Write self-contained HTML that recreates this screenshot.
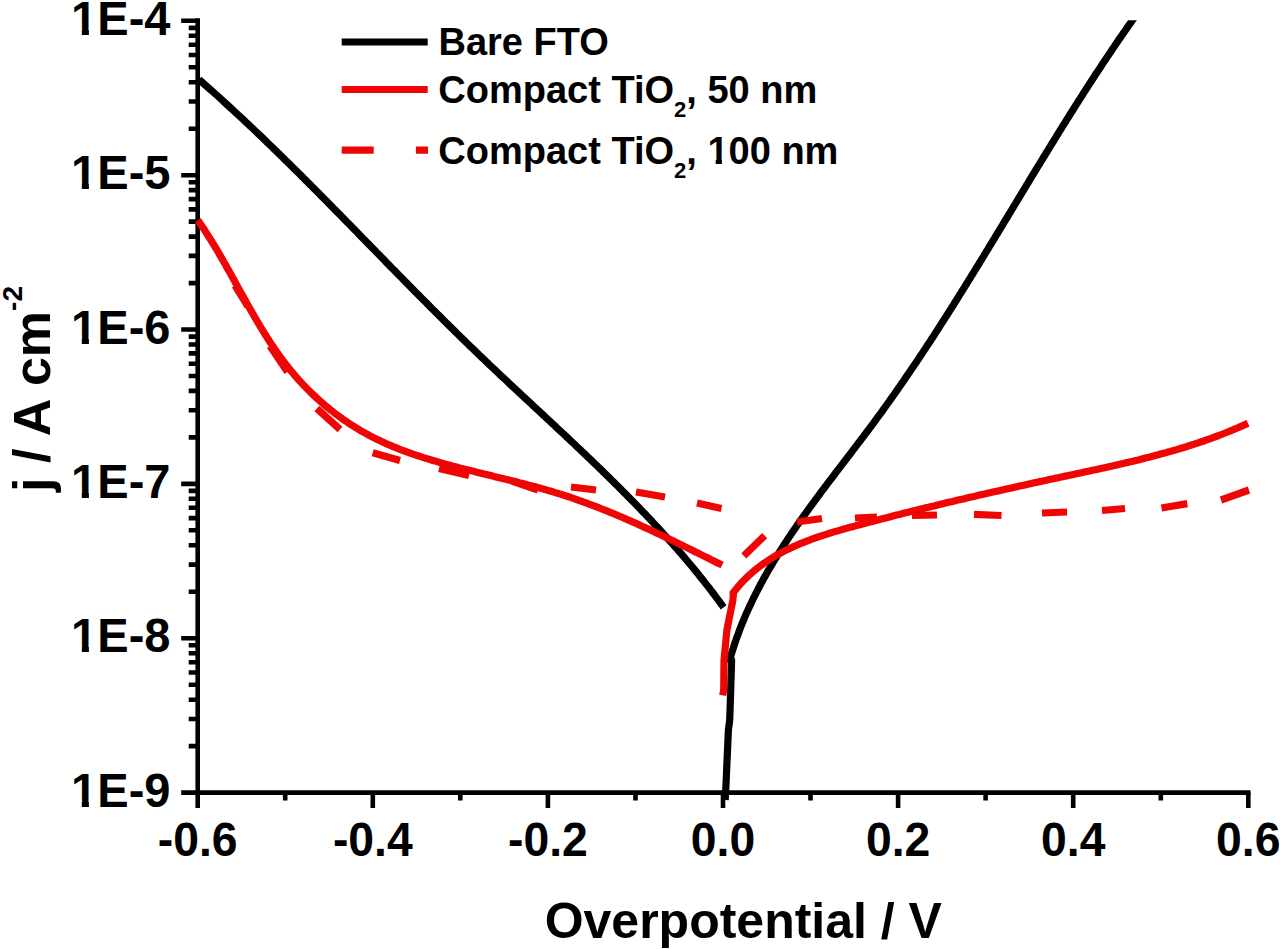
<!DOCTYPE html><html><head><meta charset="utf-8"><style>html,body{margin:0;padding:0;background:#fff;width:1280px;height:949px;overflow:hidden}svg{display:block}</style></head><body><div id="w"><svg width="1280" height="949" viewBox="0 0 1280 949">
<rect width="1280" height="949" fill="#fff"/>
<path d="M188.7,128.7H197.7M188.7,101.5H197.7M188.7,82.2H197.7M188.7,67.3H197.7M188.7,55.0H197.7M188.7,44.7H197.7M188.7,35.8H197.7M188.7,27.9H197.7M188.7,283.1H197.7M188.7,255.9H197.7M188.7,236.6H197.7M188.7,221.6H197.7M188.7,209.4H197.7M188.7,199.1H197.7M188.7,190.1H197.7M188.7,182.2H197.7M188.7,437.4H197.7M188.7,410.2H197.7M188.7,390.9H197.7M188.7,376.0H197.7M188.7,363.8H197.7M188.7,353.4H197.7M188.7,344.5H197.7M188.7,336.6H197.7M188.7,591.8H197.7M188.7,564.6H197.7M188.7,545.3H197.7M188.7,530.3H197.7M188.7,518.1H197.7M188.7,507.8H197.7M188.7,498.8H197.7M188.7,490.9H197.7M188.7,746.1H197.7M188.7,719.0H197.7M188.7,699.7H197.7M188.7,684.7H197.7M188.7,672.5H197.7M188.7,662.2H197.7M188.7,653.2H197.7M188.7,645.3H197.7M181.2,20.8H197.7M181.2,175.2H197.7M181.2,329.5H197.7M181.2,483.9H197.7M181.2,638.2H197.7M181.2,792.6H197.7M197.7,792.6V808.1M372.8,792.6V808.1M547.9,792.6V808.1M723.0,792.6V808.1M898.1,792.6V808.1M1073.2,792.6V808.1M1248.3,792.6V808.1M285.2,792.6V800.6M460.3,792.6V800.6M635.5,792.6V800.6M810.5,792.6V800.6M985.6,792.6V800.6M1160.8,792.6V800.6" stroke="#000" stroke-width="4.6" fill="none"/>
<path d="M197.7,18.3V792.6H1250.5" stroke="#000" stroke-width="4.6" fill="none" stroke-linejoin="miter"/>
<defs><clipPath id="pc"><rect x="0" y="20.3" width="1280" height="930"/></clipPath></defs>
<g fill="none" stroke-linejoin="round" stroke-width="7.2" clip-path="url(#pc)">
<path d="M199.0,79.6 L201.3,81.5 L203.5,83.5 L205.8,85.5 L208.0,87.5 L210.3,89.5 L212.5,91.4 L214.7,93.4 L217.0,95.4 L219.2,97.4 L221.4,99.4 L223.6,101.5 L225.8,103.5 L228.0,105.5 L230.2,107.5 L232.4,109.5 L234.6,111.6 L236.8,113.6 L239.0,115.6 L241.2,117.7 L243.4,119.7 L245.6,121.8 L247.8,123.8 L249.9,125.9 L252.1,127.9 L254.3,130.0 L256.4,132.0 L258.6,134.1 L260.8,136.2 L262.9,138.2 L265.1,140.3 L267.2,142.4 L269.4,144.5 L271.5,146.5 L273.7,148.6 L275.8,150.7 L278.0,152.8 L280.1,154.9 L282.3,157.0 L284.4,159.1 L286.5,161.2 L288.7,163.3 L290.8,165.4 L292.9,167.5 L295.0,169.6 L297.2,171.7 L299.3,173.8 L301.4,175.9 L303.5,178.0 L305.6,180.1 L307.7,182.2 L309.9,184.4 L312.0,186.5 L314.1,188.6 L316.2,190.7 L318.3,192.8 L320.4,195.0 L322.5,197.1 L324.6,199.2 L326.7,201.3 L328.8,203.5 L330.9,205.6 L333.0,207.7 L335.1,209.9 L337.2,212.0 L339.3,214.1 L341.4,216.3 L343.5,218.4 L345.6,220.6 L347.7,222.7 L349.8,224.8 L351.9,227.0 L354.0,229.1 L356.1,231.2 L358.1,233.4 L360.2,235.5 L362.3,237.7 L364.4,239.8 L366.5,242.0 L368.6,244.1 L370.7,246.2 L372.8,248.4 L374.9,250.5 L377.0,252.7 L379.1,254.8 L381.2,257.0 L383.3,259.1 L385.3,261.2 L387.4,263.4 L389.5,265.5 L391.6,267.7 L393.7,269.8 L395.8,271.9 L397.9,274.1 L400.0,276.2 L402.1,278.3 L404.2,280.5 L406.3,282.6 L408.4,284.8 L410.5,286.9 L412.6,289.0 L414.7,291.2 L416.8,293.3 L418.9,295.4 L421.0,297.5 L423.2,299.7 L425.3,301.8 L427.4,303.9 L429.5,306.1 L431.6,308.2 L433.7,310.3 L435.8,312.4 L438.0,314.5 L440.1,316.6 L442.2,318.8 L444.3,320.9 L446.5,323.0 L448.6,325.1 L450.7,327.2 L452.9,329.3 L455.0,331.4 L457.1,333.5 L459.3,335.6 L461.4,337.7 L463.6,339.8 L465.7,341.9 L467.9,344.0 L470.0,346.1 L472.2,348.2 L474.3,350.2 L476.5,352.3 L478.6,354.4 L480.8,356.5 L483.0,358.5 L485.2,360.6 L487.3,362.7 L489.5,364.8 L491.7,366.8 L493.9,368.9 L496.0,370.9 L498.2,373.0 L500.4,375.1 L502.6,377.1 L504.8,379.2 L507.0,381.2 L509.2,383.3 L511.3,385.3 L513.5,387.4 L515.7,389.4 L517.9,391.5 L520.1,393.5 L522.3,395.6 L524.5,397.6 L526.7,399.7 L528.9,401.7 L531.1,403.7 L533.3,405.8 L535.5,407.8 L537.7,409.9 L539.9,411.9 L542.1,414.0 L544.3,416.0 L546.5,418.1 L548.7,420.1 L550.9,422.1 L553.0,424.2 L555.2,426.2 L557.4,428.3 L559.6,430.3 L561.8,432.4 L564.0,434.4 L566.2,436.5 L568.4,438.5 L570.5,440.6 L572.7,442.7 L574.9,444.7 L577.1,446.8 L579.3,448.8 L581.4,450.9 L583.6,453.0 L585.8,455.0 L587.9,457.1 L590.1,459.2 L592.2,461.2 L594.4,463.3 L596.6,465.4 L598.7,467.5 L600.9,469.5 L603.0,471.6 L605.1,473.7 L607.3,475.8 L609.4,477.9 L611.5,480.0 L613.7,482.1 L615.8,484.2 L617.9,486.3 L620.0,488.4 L622.1,490.5 L624.2,492.6 L626.4,494.8 L628.4,496.9 L630.5,499.0 L632.6,501.1 L634.7,503.3 L636.8,505.4 L638.9,507.6 L640.9,509.7 L643.0,511.9 L645.1,514.0 L647.1,516.2 L649.2,518.3 L651.2,520.5 L653.2,522.7 L655.3,524.9 L657.3,527.0 L659.3,529.2 L661.3,531.4 L663.3,533.6 L665.3,535.8 L667.3,538.0 L669.3,540.3 L671.3,542.5 L673.3,544.7 L675.2,547.0 L677.2,549.2 L679.1,551.4 L681.1,553.7 L683.0,555.9 L685.0,558.2 L686.9,560.5 L688.8,562.8 L690.7,565.0 L692.6,567.3 L694.5,569.6 L696.4,571.9 L698.3,574.2 L700.1,576.6 L702.0,578.9 L703.9,581.2 L705.7,583.6 L707.5,585.9 L709.4,588.3 L711.2,590.6 L713.0,593.0 L714.8,595.4 L716.6,597.8 L718.4,600.2 L720.1,602.6 L721.9,605.0 L723.6,607.4" stroke="#000"/>
<path d="M725.2,800.0 L725.8,789.0 L728.4,730.0 L729.7,720.0 L730.7,690.0 L731.6,660.0 L729.8,659.7 L730.5,657.2 L731.2,654.6 L732.0,652.1 L732.8,649.6 L733.6,647.2 L734.4,644.7 L735.2,642.2 L736.0,639.8 L736.9,637.3 L737.8,634.9 L738.7,632.5 L739.6,630.0 L740.5,627.6 L741.5,625.2 L742.4,622.9 L743.4,620.5 L744.4,618.1 L745.4,615.7 L746.4,613.4 L747.5,611.0 L748.5,608.7 L749.6,606.4 L750.7,604.1 L751.8,601.8 L752.9,599.4 L754.0,597.2 L755.2,594.9 L756.3,592.6 L757.5,590.3 L758.7,588.0 L759.8,585.8 L761.0,583.5 L762.3,581.3 L763.5,579.0 L764.7,576.8 L766.0,574.6 L767.2,572.4 L768.5,570.2 L769.8,568.0 L771.1,565.8 L772.4,563.6 L773.7,561.4 L775.0,559.2 L776.4,557.0 L777.7,554.8 L779.1,552.7 L780.4,550.5 L781.8,548.4 L783.2,546.2 L784.6,544.1 L786.0,541.9 L787.4,539.8 L788.8,537.6 L790.2,535.5 L791.6,533.4 L793.1,531.3 L794.5,529.2 L796.0,527.1 L797.4,524.9 L798.9,522.8 L800.4,520.7 L801.9,518.6 L803.3,516.5 L804.8,514.5 L806.3,512.4 L807.8,510.3 L809.3,508.2 L810.8,506.1 L812.4,504.0 L813.9,502.0 L815.4,499.9 L816.9,497.8 L818.5,495.8 L820.0,493.7 L821.5,491.6 L823.1,489.6 L824.6,487.5 L826.2,485.4 L827.7,483.4 L829.3,481.3 L830.8,479.3 L832.4,477.2 L834.0,475.2 L835.5,473.1 L837.1,471.1 L838.6,469.0 L840.2,467.0 L841.8,464.9 L843.3,462.9 L844.9,460.8 L846.5,458.8 L848.0,456.7 L849.6,454.7 L851.2,452.6 L852.7,450.5 L854.3,448.5 L855.9,446.4 L857.4,444.4 L859.0,442.3 L860.6,440.3 L862.1,438.2 L863.7,436.2 L865.2,434.1 L866.8,432.0 L868.3,430.0 L869.9,427.9 L871.4,425.8 L872.9,423.8 L874.5,421.7 L876.0,419.6 L877.5,417.5 L879.1,415.4 L880.6,413.4 L882.1,411.3 L883.6,409.2 L885.1,407.1 L886.6,405.0 L888.1,402.9 L889.6,400.8 L891.1,398.7 L892.6,396.6 L894.1,394.5 L895.6,392.4 L897.0,390.3 L898.5,388.2 L900.0,386.0 L901.4,383.9 L902.9,381.8 L904.4,379.7 L905.8,377.6 L907.3,375.4 L908.7,373.3 L910.2,371.2 L911.6,369.1 L913.1,366.9 L914.5,364.8 L915.9,362.7 L917.4,360.5 L918.8,358.4 L920.2,356.2 L921.7,354.1 L923.1,351.9 L924.5,349.8 L925.9,347.7 L927.3,345.5 L928.7,343.4 L930.2,341.2 L931.6,339.0 L933.0,336.9 L934.4,334.7 L935.8,332.6 L937.2,330.4 L938.6,328.2 L939.9,326.1 L941.3,323.9 L942.7,321.7 L944.1,319.6 L945.5,317.4 L946.9,315.2 L948.3,313.1 L949.6,310.9 L951.0,308.7 L952.4,306.5 L953.8,304.4 L955.1,302.2 L956.5,300.0 L957.9,297.8 L959.2,295.6 L960.6,293.5 L961.9,291.3 L963.3,289.1 L964.7,286.9 L966.0,284.7 L967.4,282.5 L968.7,280.3 L970.1,278.2 L971.4,276.0 L972.8,273.8 L974.1,271.6 L975.5,269.4 L976.8,267.2 L978.2,265.0 L979.5,262.8 L980.9,260.6 L982.2,258.4 L983.6,256.2 L984.9,254.0 L986.2,251.8 L987.6,249.6 L988.9,247.4 L990.2,245.2 L991.6,243.0 L992.9,240.8 L994.3,238.6 L995.6,236.4 L996.9,234.2 L998.3,232.0 L999.6,229.8 L1000.9,227.6 L1002.3,225.4 L1003.6,223.2 L1004.9,221.0 L1006.3,218.8 L1007.6,216.6 L1008.9,214.4 L1010.3,212.2 L1011.6,210.0 L1012.9,207.8 L1014.2,205.6 L1015.6,203.4 L1016.9,201.2 L1018.2,199.0 L1019.6,196.8 L1020.9,194.6 L1022.2,192.4 L1023.6,190.2 L1024.9,188.0 L1026.2,185.8 L1027.6,183.6 L1028.9,181.4 L1030.2,179.2 L1031.6,176.9 L1032.9,174.7 L1034.3,172.5 L1035.6,170.3 L1036.9,168.1 L1038.3,165.9 L1039.6,163.8 L1040.9,161.6 L1042.3,159.4 L1043.6,157.2 L1045.0,155.0 L1046.3,152.8 L1047.7,150.6 L1049.0,148.4 L1050.4,146.2 L1051.7,144.0 L1053.1,141.8 L1054.4,139.6 L1055.8,137.4 L1057.1,135.2 L1058.5,133.0 L1059.8,130.8 L1061.2,128.7 L1062.5,126.5 L1063.9,124.3 L1065.3,122.1 L1066.6,119.9 L1068.0,117.7 L1069.4,115.6 L1070.7,113.4 L1072.1,111.2 L1073.5,109.0 L1074.9,106.8 L1076.2,104.7 L1077.6,102.5 L1079.0,100.3 L1080.4,98.1 L1081.8,96.0 L1083.1,93.8 L1084.5,91.6 L1085.9,89.5 L1087.3,87.3 L1088.7,85.1 L1090.1,83.0 L1091.5,80.8 L1092.9,78.7 L1094.3,76.5 L1095.7,74.3 L1097.1,72.2 L1098.6,70.0 L1100.0,67.9 L1101.4,65.7 L1102.8,63.6 L1104.2,61.4 L1105.7,59.3 L1107.1,57.1 L1108.5,55.0 L1110.0,52.9 L1111.4,50.7 L1112.8,48.6 L1114.3,46.5 L1115.7,44.3 L1117.2,42.2 L1118.6,40.1 L1120.1,37.9 L1121.6,35.8 L1123.0,33.7 L1124.5,31.6 L1126.0,29.5 L1127.4,27.3 L1128.9,25.2 L1130.4,23.1 L1131.9,21.0 L1133.4,18.9 L1134.8,16.8 L1136.3,14.7 L1137.8,12.6 L1139.3,10.5" stroke="#000"/>
<path d="M197.8,220.3 L199.1,222.0 L200.3,223.8 L201.5,225.6 L202.7,227.3 L203.9,229.1 L205.1,230.9 L206.3,232.8 L207.4,234.6 L208.6,236.4 L209.8,238.2 L210.9,240.1 L212.0,241.9 L213.2,243.8 L214.3,245.7 L215.4,247.5 L216.6,249.4 L217.7,251.3 L218.8,253.2 L219.9,255.1 L221.0,257.0 L222.1,258.9 L223.2,260.8 L224.3,262.7 L225.4,264.6 L226.4,266.5 L227.5,268.5 L228.6,270.4 L229.7,272.3 L230.8,274.2 L231.8,276.2 L232.9,278.1 L234.0,280.1 L235.1,282.0 L236.1,283.9 L237.2,285.9 L238.3,287.8 L239.3,289.8 L240.4,291.7 L241.5,293.7 L242.6,295.6 L243.6,297.5 L244.7,299.5 L245.8,301.4 L246.9,303.4 L248.0,305.3 L249.1,307.2 L250.2,309.2 L251.3,311.1 L252.4,313.0 L253.5,314.9 L254.6,316.9 L255.7,318.8 L256.8,320.7 L258.0,322.6 L259.1,324.5 L260.2,326.4 L261.4,328.3 L262.5,330.2 L263.7,332.1 L264.9,334.0 L266.0,335.8 L267.2,337.7 L268.4,339.5 L269.6,341.4 L270.8,343.2 L272.0,345.1 L273.3,346.9 L274.5,348.7 L275.7,350.5 L277.0,352.4 L278.3,354.2 L279.5,355.9 L280.8,357.7 L282.1,359.5 L283.4,361.2 L284.8,363.0 L286.1,364.7 L287.5,366.5 L288.8,368.2 L290.2,369.9 L291.6,371.6 L293.0,373.2 L294.4,374.9 L295.8,376.6 L297.3,378.2 L298.7,379.9 L300.2,381.5 L301.7,383.1 L303.2,384.7 L304.7,386.3 L306.2,387.8 L307.7,389.4 L309.3,390.9 L310.8,392.5 L312.4,394.0 L314.0,395.5 L315.6,397.0 L317.2,398.5 L318.8,399.9 L320.4,401.4 L322.1,402.8 L323.7,404.2 L325.4,405.7 L327.1,407.1 L328.7,408.4 L330.4,409.8 L332.2,411.2 L333.9,412.5 L335.6,413.8 L337.4,415.1 L339.1,416.4 L340.9,417.7 L342.7,419.0 L344.5,420.2 L346.3,421.4 L348.1,422.7 L349.9,423.9 L351.7,425.1 L353.6,426.2 L355.4,427.4 L357.3,428.5 L359.1,429.7 L361.0,430.8 L362.9,431.9 L364.8,432.9 L366.7,434.0 L368.6,435.0 L370.6,436.1 L372.5,437.1 L374.5,438.1 L376.4,439.0 L378.4,440.0 L380.4,440.9 L382.3,441.9 L384.3,442.8 L386.3,443.7 L388.4,444.6 L390.4,445.4 L392.4,446.3 L394.4,447.1 L396.5,447.9 L398.5,448.8 L400.6,449.6 L402.6,450.3 L404.7,451.1 L406.7,451.9 L408.8,452.6 L410.9,453.4 L413.0,454.1 L415.1,454.8 L417.2,455.5 L419.3,456.2 L421.4,456.9 L423.5,457.6 L425.6,458.2 L427.7,458.9 L429.8,459.5 L431.9,460.2 L434.0,460.8 L436.2,461.4 L438.3,462.0 L440.4,462.7 L442.6,463.3 L444.7,463.9 L446.8,464.4 L449.0,465.0 L451.1,465.6 L453.2,466.2 L455.4,466.7 L457.5,467.3 L459.6,467.9 L461.8,468.4 L463.9,469.0 L466.1,469.5 L468.2,470.0 L470.3,470.6 L472.5,471.1 L474.6,471.6 L476.7,472.2 L478.9,472.7 L481.0,473.2 L483.2,473.8 L485.3,474.3 L487.4,474.8 L489.6,475.3 L491.7,475.8 L493.9,476.4 L496.0,476.9 L498.1,477.4 L500.3,477.9 L502.4,478.4 L504.5,479.0 L506.7,479.5 L508.8,480.0 L510.9,480.5 L513.1,481.1 L515.2,481.6 L517.3,482.1 L519.4,482.7 L521.6,483.2 L523.7,483.8 L525.8,484.3 L527.9,484.9 L530.0,485.4 L532.2,486.0 L534.3,486.6 L536.4,487.1 L538.5,487.7 L540.6,488.3 L542.7,488.9 L544.8,489.5 L546.9,490.1 L549.0,490.7 L551.1,491.3 L553.2,491.9 L555.3,492.6 L557.4,493.2 L559.5,493.9 L561.6,494.5 L563.7,495.2 L565.7,495.8 L567.8,496.5 L569.9,497.2 L572.0,497.9 L574.0,498.6 L576.1,499.3 L578.2,500.1 L580.2,500.8 L582.3,501.5 L584.4,502.3 L586.4,503.0 L588.5,503.8 L590.5,504.6 L592.6,505.3 L594.6,506.1 L596.7,506.9 L598.7,507.7 L600.7,508.5 L602.8,509.3 L604.8,510.1 L606.9,510.9 L608.9,511.8 L610.9,512.6 L612.9,513.4 L615.0,514.3 L617.0,515.1 L619.0,516.0 L621.0,516.8 L623.1,517.7 L625.1,518.6 L627.1,519.5 L629.1,520.4 L631.1,521.2 L633.1,522.1 L635.1,523.0 L637.1,523.9 L639.1,524.8 L641.1,525.8 L643.1,526.7 L645.1,527.6 L647.1,528.5 L649.1,529.4 L651.1,530.4 L653.1,531.3 L655.1,532.2 L657.1,533.2 L659.1,534.1 L661.1,535.1 L663.1,536.0 L665.0,537.0 L667.0,537.9 L669.0,538.9 L671.0,539.9 L673.0,540.8 L674.9,541.8 L676.9,542.7 L678.9,543.7 L680.9,544.7 L682.8,545.6 L684.8,546.6 L686.8,547.6 L688.8,548.6 L690.7,549.5 L692.7,550.5 L694.7,551.5 L696.6,552.5 L698.6,553.4 L700.5,554.4 L702.5,555.4 L704.5,556.4 L706.4,557.3 L708.4,558.3 L710.3,559.3 L712.3,560.2 L714.3,561.2 L716.2,562.2 L718.2,563.2 L720.1,564.1 L722.1,565.1" stroke="#f00505"/>
<path d="M722.7,695.4 L723.7,690.0 L724.0,660.0 L726.9,630.0 L732.9,600.0 L733.5,593.0 L733.0,593.0 L734.8,590.7 L736.6,588.5 L738.4,586.3 L740.3,584.1 L742.2,582.1 L744.2,580.0 L746.1,578.1 L748.1,576.1 L750.2,574.3 L752.3,572.4 L754.3,570.6 L756.5,568.9 L758.6,567.2 L760.8,565.6 L763.0,564.0 L765.2,562.4 L767.5,560.9 L769.7,559.4 L772.0,558.0 L774.3,556.6 L776.7,555.2 L779.0,553.9 L781.4,552.6 L783.8,551.3 L786.2,550.1 L788.7,548.9 L791.1,547.7 L793.6,546.6 L796.1,545.5 L798.6,544.4 L801.1,543.3 L803.7,542.3 L806.2,541.3 L808.8,540.3 L811.3,539.4 L813.9,538.4 L816.5,537.5 L819.1,536.6 L821.7,535.8 L824.4,534.9 L827.0,534.1 L829.6,533.2 L832.3,532.4 L834.9,531.6 L837.6,530.9 L840.3,530.1 L842.9,529.3 L845.6,528.6 L848.3,527.8 L851.0,527.1 L853.7,526.4 L856.3,525.6 L859.0,524.9 L861.7,524.2 L864.4,523.5 L867.1,522.8 L869.7,522.1 L872.4,521.4 L875.1,520.7 L877.8,520.0 L880.5,519.3 L883.1,518.6 L885.8,517.9 L888.5,517.2 L891.2,516.5 L893.8,515.8 L896.5,515.1 L899.2,514.5 L901.9,513.8 L904.5,513.1 L907.2,512.4 L909.9,511.8 L912.6,511.1 L915.2,510.4 L917.9,509.8 L920.6,509.1 L923.3,508.5 L925.9,507.8 L928.6,507.2 L931.3,506.5 L934.0,505.9 L936.6,505.2 L939.3,504.6 L942.0,503.9 L944.6,503.3 L947.3,502.6 L950.0,502.0 L952.7,501.4 L955.3,500.7 L958.0,500.1 L960.7,499.5 L963.4,498.9 L966.0,498.2 L968.7,497.6 L971.4,497.0 L974.1,496.4 L976.7,495.7 L979.4,495.1 L982.1,494.5 L984.8,493.9 L987.5,493.3 L990.1,492.7 L992.8,492.1 L995.5,491.5 L998.2,490.9 L1000.9,490.3 L1003.5,489.7 L1006.2,489.1 L1008.9,488.5 L1011.6,487.9 L1014.3,487.3 L1016.9,486.7 L1019.6,486.1 L1022.3,485.5 L1025.0,484.9 L1027.7,484.3 L1030.4,483.7 L1033.1,483.1 L1035.8,482.5 L1038.5,481.9 L1041.1,481.4 L1043.8,480.8 L1046.5,480.2 L1049.2,479.6 L1051.9,479.0 L1054.6,478.4 L1057.3,477.9 L1060.0,477.3 L1062.7,476.7 L1065.4,476.1 L1068.1,475.6 L1070.8,475.0 L1073.5,474.4 L1076.2,473.8 L1078.9,473.2 L1081.6,472.7 L1084.3,472.1 L1087.0,471.5 L1089.8,470.9 L1092.5,470.3 L1095.2,469.8 L1097.9,469.2 L1100.6,468.6 L1103.3,468.0 L1106.0,467.4 L1108.7,466.8 L1111.4,466.2 L1114.1,465.6 L1116.8,464.9 L1119.5,464.3 L1122.2,463.7 L1124.9,463.1 L1127.6,462.4 L1130.3,461.8 L1133.0,461.2 L1135.6,460.5 L1138.3,459.9 L1141.0,459.2 L1143.7,458.5 L1146.4,457.8 L1149.1,457.2 L1151.7,456.5 L1154.4,455.8 L1157.1,455.1 L1159.8,454.3 L1162.4,453.6 L1165.1,452.9 L1167.7,452.1 L1170.4,451.4 L1173.0,450.6 L1175.7,449.9 L1178.3,449.1 L1181.0,448.3 L1183.6,447.5 L1186.3,446.7 L1188.9,445.8 L1191.5,445.0 L1194.1,444.2 L1196.8,443.3 L1199.4,442.4 L1202.0,441.5 L1204.6,440.7 L1207.2,439.7 L1209.8,438.8 L1212.4,437.9 L1215.0,436.9 L1217.5,436.0 L1220.1,435.0 L1222.7,434.0 L1225.2,433.0 L1227.8,432.0 L1230.3,430.9 L1232.9,429.9 L1235.4,428.8 L1238.0,427.7 L1240.5,426.6 L1243.0,425.5 L1245.5,424.4 L1248.0,423.2" stroke="#f00505"/>
</g>
<g fill="none" stroke="#f00505" stroke-width="7.2">
<path d="M235.0,285.5 L248.0,306.5"/>
<path d="M270.0,346.0 L287.5,372.0"/>
<path d="M316.9,408.5 L340.0,429.5"/>
<path d="M372.7,452.7 L400.0,460.5"/>
<path d="M439.0,468.5 L469.0,475.5"/>
<path d="M512.0,481.0 L538.0,490.0"/>
<path d="M571.0,487.0 L596.0,490.0"/>
<path d="M636.0,492.0 L665.0,497.0"/>
<path d="M697.0,503.0 L721.5,508.5"/>
<path d="M743.8,555.9 L764.7,535.6"/>
<path d="M797.0,522.0 L822.0,518.5"/>
<path d="M855.0,518.0 L877.0,517.0"/>
<path d="M912.0,515.5 L937.0,515.0"/>
<path d="M974.0,514.3 L1001.5,515.5"/>
<path d="M1042.0,513.0 L1067.0,512.0"/>
<path d="M1102.0,510.5 L1125.0,508.5"/>
<path d="M1161.5,508.0 L1187.3,503.6"/>
<path d="M1221.0,500.0 L1249.0,490.0"/>
</g>
<path d="M341.7,42H427.7" stroke="#000" stroke-width="7.2"/>
<path d="M341.7,89.5H427.7" stroke="#f00505" stroke-width="7.2"/>
<path d="M341.7,150.2H373.7M415.9,150.2H428" stroke="#f00505" stroke-width="7.2"/>
<g font-family="Liberation Sans, sans-serif" font-weight="bold" fill="#000">
<text x="438.5" y="54.7" font-size="38">Bare FTO</text>
<text x="438.3" y="103.3" font-size="38">Compact TiO<tspan font-size="22" dy="14">2</tspan><tspan dy="-14">, 50 nm</tspan></text>
<text x="438.3" y="163.6" font-size="38">Compact TiO<tspan font-size="22" dy="14">2</tspan><tspan dy="-14">, 100 nm</tspan></text>
<text transform="translate(120.8,34.9) scale(0.98,1)" font-size="48" text-anchor="middle">1E-4</text>
<text transform="translate(120.8,189.3) scale(0.98,1)" font-size="48" text-anchor="middle">1E-5</text>
<text transform="translate(120.8,343.6) scale(0.98,1)" font-size="48" text-anchor="middle">1E-6</text>
<text transform="translate(120.8,498.0) scale(0.98,1)" font-size="48" text-anchor="middle">1E-7</text>
<text transform="translate(120.8,652.3) scale(0.98,1)" font-size="48" text-anchor="middle">1E-8</text>
<text transform="translate(120.8,806.7) scale(0.98,1)" font-size="48" text-anchor="middle">1E-9</text>
<text transform="translate(197.7,856) scale(0.965,1)" font-size="48" text-anchor="middle">-0.6</text>
<text transform="translate(372.8,856) scale(0.965,1)" font-size="48" text-anchor="middle">-0.4</text>
<text transform="translate(547.9,856) scale(0.965,1)" font-size="48" text-anchor="middle">-0.2</text>
<text transform="translate(723.0,856) scale(0.965,1)" font-size="48" text-anchor="middle">0.0</text>
<text transform="translate(898.1,856) scale(0.965,1)" font-size="48" text-anchor="middle">0.2</text>
<text transform="translate(1073.2,856) scale(0.965,1)" font-size="48" text-anchor="middle">0.4</text>
<text transform="translate(1248.3,856) scale(0.965,1)" font-size="48" text-anchor="middle">0.6</text>
<text x="743.3" y="938" font-size="50" text-anchor="middle">Overpotential / V</text>
<text transform="translate(49.5,389) rotate(-90)" font-size="52" text-anchor="middle">j / A cm<tspan font-size="28" dy="-28">-2</tspan></text>
</g>
<path d="M72,28.6h9.8v7h-9.8z M88.9,28.6h8.3v7h-8.3z M72,183.0h9.8v7h-9.8z M88.9,183.0h8.3v7h-8.3z M72,337.3h9.8v7h-9.8z M88.9,337.3h8.3v7h-8.3z M72,491.7h9.8v7h-9.8z M88.9,491.7h8.3v7h-8.3z M72,646.0h9.8v7h-9.8z M88.9,646.0h8.3v7h-8.3z M72,800.4h9.8v7h-9.8z M88.9,800.4h8.3v7h-8.3z M708,158.3h7.7v6h-7.7z M721.9,158.3h6.6v6h-6.6z" fill="#fff"/>
</svg></div></body></html>
